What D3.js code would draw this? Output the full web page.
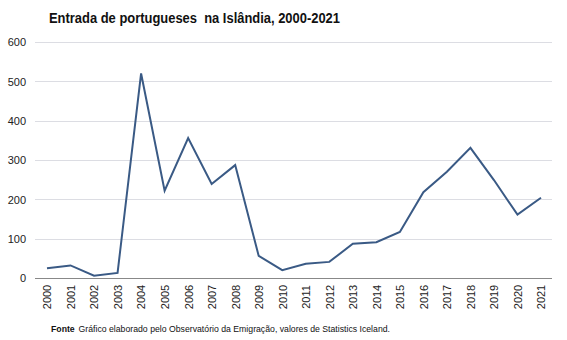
<!DOCTYPE html>
<html><head><meta charset="utf-8">
<script src="https://cdn.jsdelivr.net/npm/d3@7"></script>
<style>body{margin:0;background:#fff;font-family:Arial,"Liberation Sans",sans-serif}</style>
</head><body><svg id="c" width="567" height="340"></svg>
<script>
const years = ["2000","2001","2002","2003","2004","2005","2006","2007","2008","2009","2010","2011","2012","2013","2014","2015","2016","2017","2018","2019","2020","2021"];
const values = [25,32,6,13,520,222,356,239,287,56,20,36,41,87,91,117,218,270,331,249,161,204];
const yTicks = [0,100,200,300,400,500,600];

const svg = d3.select("#c");
const x = d3.scalePoint().domain(years).range([47, 541]);
const y = d3.scaleLinear().domain([0,600]).range([278, 42]);

svg.append("text").attr("x",49).attr("y",23).attr("font-size",14).attr("font-weight","bold").attr("fill","#111")
  .style("white-space","pre").attr("textLength",291).attr("lengthAdjust","spacingAndGlyphs")
  .text("Entrada de portugueses  na Islândia, 2000-2021");

svg.selectAll("line.grid").data(yTicks.slice(1)).join("line").attr("class","grid")
  .attr("x1",35).attr("x2",552).attr("y1",d=>Math.round(y(d))+0.5).attr("y2",d=>Math.round(y(d))+0.5).attr("stroke","#dcdde3").attr("stroke-width",1);

const ya = d3.axisLeft(y).tickValues(yTicks).tickSize(0).tickPadding(0);
svg.append("g").attr("transform","translate(26,0)").call(ya)
  .call(s=>s.select(".domain").remove())
  .selectAll("text").attr("font-size",11).attr("fill","#222").attr("font-family","Arial, 'Liberation Sans', sans-serif").attr("dy","0.35em");

svg.append("line").attr("x1",35).attr("x2",552).attr("y1",278.5).attr("y2",278.5).attr("stroke","#888").attr("stroke-width",1);

const xa = d3.axisBottom(x).tickSize(0).tickPadding(0);
svg.append("g").attr("transform","translate(0,284)").call(xa)
  .call(s=>s.select(".domain").remove())
  .selectAll("text").attr("font-size",11).attr("fill","#222").attr("font-family","Arial, 'Liberation Sans', sans-serif")
  .attr("transform","rotate(-90)").attr("x",-13).attr("y",0).attr("dy","0.35em")
  .attr("text-anchor","middle");

const line = d3.line().x((d,i)=>x(years[i])).y(d=>y(d));
svg.append("path").datum(values).attr("d",line).attr("fill","none").attr("stroke","#3a5a85").attr("stroke-width",2).attr("stroke-linejoin","miter");

const f = svg.append("text").attr("x",51).attr("y",332).attr("font-size",9).attr("fill","#111")
  .attr("textLength",339).attr("lengthAdjust","spacingAndGlyphs");
f.append("tspan").attr("font-weight","bold").text("Fonte");
f.append("tspan").attr("dx",4).text("Gráfico elaborado pelo Observatório da Emigração, valores de Statistics Iceland.");
</script></body></html>
